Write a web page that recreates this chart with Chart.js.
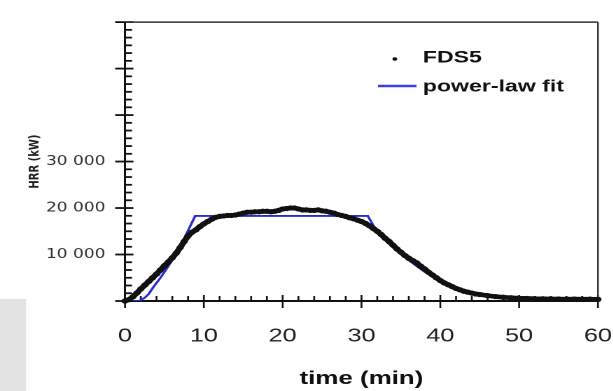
<!DOCTYPE html>
<html>
<head>
<meta charset="utf-8">
<script src="https://cdn.jsdelivr.net/npm/chart.js@4.4.1/dist/chart.umd.min.js"></script>
<style>
  html, body { margin: 0; padding: 0; background: #fff; overflow: hidden; }
  /* the original figure is stretched sideways, so draw narrow and widen it */
  #wrap { position: absolute; left: 0; top: 0; width: 438px; height: 391px; transform: scaleX(1.4); transform-origin: 0 0; }
</style>
</head>
<body>
<div id="wrap"><canvas id="hrrChart"></canvas></div>
<script>
// FDS5 simulation (time in min, HRR in kW)
const fdsTime = [0, 0.5, 1, 1.5, 2, 2.5, 3, 3.5, 4, 4.5, 5, 5.5, 6, 6.5, 7, 7.5, 8, 8.5, 9, 9.5,
  10, 10.5, 11, 11.5, 12, 12.5, 13, 13.5, 14, 14.5, 15, 15.5, 16, 16.5, 17, 17.5, 18, 18.5, 19, 19.5,
  20, 20.5, 21, 21.5, 22, 22.5, 23, 23.5, 24, 24.5, 25, 25.5, 26, 26.5, 27, 27.5, 28, 28.5, 29, 29.5,
  30, 30.5, 31, 31.5, 32, 32.5, 33, 33.5, 34, 34.5, 35, 35.5, 36, 36.5, 37, 37.5, 38, 38.5, 39, 39.5,
  40, 40.5, 41, 41.5, 42, 42.5, 43, 43.5, 44, 44.5, 45, 46, 47, 48, 49, 50, 51, 52, 53, 54, 55, 56, 57, 58, 59, 60];
const fdsHrr = [0, 300, 900, 1700, 2600, 3400, 4200, 5000, 5800, 6700, 7600, 8400, 9300, 10300, 11500, 12800, 14000, 14800, 15300, 16000,
  16600, 17100, 17600, 18000, 18200, 18300, 18400, 18400, 18500, 18700, 18900, 19100, 19100, 19200, 19200, 19300, 19300, 19200, 19300, 19500,
  19800, 19900, 20000, 20000, 19800, 19600, 19600, 19500, 19500, 19600, 19400, 19300, 19100, 18900, 18600, 18400, 18200, 17900, 17700, 17400,
  17100, 16700, 16200, 15600, 15000, 14300, 13500, 12800, 12000, 11200, 10500, 9800, 9200, 8700, 8200, 7500, 6900, 6200, 5600, 5000,
  4400, 3900, 3500, 3100, 2700, 2400, 2100, 1900, 1700, 1500, 1400, 1150, 950, 800, 700, 600, 550, 500, 480, 450, 430, 400, 420, 380, 400, 350];

// power-law fit
const fitTime = [0, 1.8, 2.5, 3, 3.6, 4.5, 5.5, 6.5, 7.6, 8.9, 30.8, 31.9, 33, 34, 35, 36, 37, 38, 39, 40,
  41, 42, 43, 44, 45, 46, 47, 48, 49, 50, 52, 55, 60];
const fitHrr = [0, 0, 700, 1500, 3000, 5000, 7500, 10300, 13750, 18300, 18300, 15100, 13300, 11800, 10200, 8800, 7500, 6300, 5200, 4300,
  3500, 2900, 2400, 2000, 1700, 1400, 1100, 850, 650, 500, 300, 150, 50];

const seriesNames = ['FDS5', 'power-law fit'];
const yLabelledTicks = [10000, 20000, 30000];

const toPoints = (xs, ys) => xs.map((x, i) => ({ x: x, y: ys[i] }));
const spaced = v => String(v).replace(/\B(?=(\d{3})+(?!\d))/g, ' ');

const SANS = '"Liberation Sans", Arial, sans-serif';
const NARROW = '"Liberation Sans Narrow", "DejaVu Sans Condensed", sans-serif';

// grey strip left over in the bottom-left corner of the scan
const grayPanel = {
  id: 'grayPanel',
  beforeDraw(chart) {
    const ctx = chart.ctx;
    ctx.save();
    ctx.fillStyle = '#e3e3e3';
    ctx.fillRect(0, 299, 18.6, 92);
    ctx.restore();
  }
};

// major ticks cross the axis, minor ticks point inwards; plus the top/right frame
const axisTicks = {
  id: 'axisTicks',
  beforeDatasetsDraw(chart) {
    const { ctx, chartArea: a, scales: { x, y } } = chart;
    ctx.save();
    ctx.strokeStyle = '#111';
    ctx.lineWidth = 1.3;
    for (let t = 0; t <= 60; t += 2) {
      const px = x.getPixelForValue(t);
      const major = t % 10 === 0;
      ctx.beginPath();
      ctx.moveTo(px, a.bottom + (major ? 7 : 0));
      ctx.lineTo(px, a.bottom - (major ? 6 : 5));
      ctx.stroke();
    }
    ctx.lineWidth = 1.8;
    for (let i = 0; i <= 36; i++) {
      const py = y.getPixelForValue(i * 10000 / 6);
      const major = i % 6 === 0;
      ctx.beginPath();
      ctx.moveTo(a.left - (major ? 7 : 0), py);
      ctx.lineTo(a.left + (major ? 6 : 5), py);
      ctx.stroke();
    }
    ctx.strokeStyle = '#333';
    ctx.lineWidth = 1.5;
    ctx.beginPath();
    ctx.moveTo(a.left, a.top);
    ctx.lineTo(a.right, a.top);
    ctx.stroke();
    ctx.lineWidth = 1.2;
    ctx.beginPath();
    ctx.moveTo(a.right, a.top);
    ctx.lineTo(a.right, a.bottom);
    ctx.stroke();
    ctx.restore();
  }
};

// legend sits inside the plot, top right
const legendBox = {
  id: 'legendBox',
  afterDraw(chart) {
    const ctx = chart.ctx;
    ctx.save();
    ctx.fillStyle = '#111';
    ctx.beginPath();
    ctx.arc(282, 59, 1.7, 0, Math.PI * 2);
    ctx.fill();
    ctx.strokeStyle = '#3d3de6';
    ctx.lineWidth = 2.6;
    ctx.beginPath();
    ctx.moveTo(270, 86);
    ctx.lineTo(297.5, 86);
    ctx.stroke();
    ctx.font = 'bold 16.5px ' + SANS;
    ctx.textBaseline = 'middle';
    ctx.textAlign = 'left';
    ctx.fillText(seriesNames[0], 302, 58);
    ctx.fillText(seriesNames[1], 302, 87);
    ctx.restore();
  }
};

new Chart(document.getElementById('hrrChart'), {
  type: 'line',
  data: {
    datasets: [
      {
        label: seriesNames[0],
        data: toPoints(fdsTime, fdsHrr),
        borderColor: '#111',
        backgroundColor: '#111',
        borderWidth: 4.6,
        pointRadius: 2.6,
        pointBorderWidth: 0,
        tension: 0,
        clip: 4
      },
      {
        label: seriesNames[1],
        data: toPoints(fitTime, fitHrr),
        borderColor: '#2a2ad2',
        borderWidth: 1.8,
        pointRadius: 0,
        tension: 0
      }
    ]
  },
  options: {
    responsive: true,
    maintainAspectRatio: false,
    devicePixelRatio: 2,
    animation: false,
    events: [],
    layout: { padding: { left: 0, right: 10.9, top: 13, bottom: 0 } },
    scales: {
      x: {
        type: 'linear',
        min: 0,
        max: 60,
        afterFit: s => { s.height = 90; },
        grid: { display: false, drawTicks: false },
        border: { display: true, color: '#111', width: 2 },
        // tall line height pushes the labels down without adding side padding
        ticks: { stepSize: 10, padding: 0, maxRotation: 0, autoSkip: false, color: '#222', font: { family: SANS, size: 18, lineHeight: 3.97 } },
        title: { display: true, text: 'time (min)', color: '#111', font: { family: SANS, size: 18.5, weight: 'bold' }, padding: { top: 0, bottom: 1 } }
      },
      y: {
        min: 0,
        max: 60000,
        afterFit: s => { s.width = 89.3; },
        grid: { display: false, drawTicks: false },
        border: { display: true, color: '#111', width: 1.5 },
        ticks: {
          stepSize: 10000,
          padding: 14,
          color: '#333',
          font: { family: NARROW, size: 13.5 },
          callback: v => yLabelledTicks.includes(v) ? spaced(v) : ''
        },
        title: { display: true, text: 'HRR (kW)', color: '#222', font: { family: '"DejaVu Sans", sans-serif', size: 10, weight: 'bold' }, padding: { top: 19, bottom: 0 } }
      }
    },
    plugins: { legend: { display: false }, tooltip: { enabled: false } }
  },
  plugins: [grayPanel, axisTicks, legendBox]
});
</script>
</body>
</html>
